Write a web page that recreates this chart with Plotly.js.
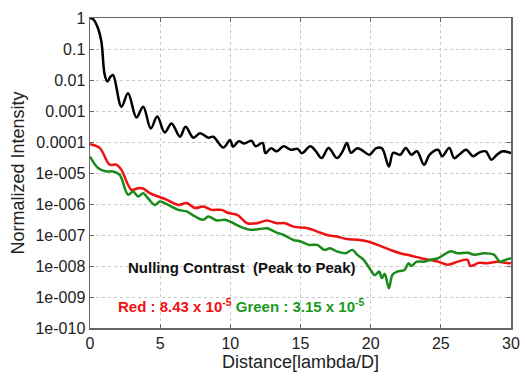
<!DOCTYPE html>
<html>
<head>
<meta charset="utf-8">
<script src="https://cdn.plot.ly/plotly-3.0.1.min.js"></script>
<style>html,body{margin:0;padding:0;background:#fff;}#chart{width:525px;height:376px;}</style>
</head>
<body>
<div id="chart"></div>
<script>
// Distance [lambda/D]
const blackX = [0, 0.25, 0.57, 0.81, 1.05, 1.24, 1.45, 1.64, 2.24, 2.71, 3.31, 3.79, 4.33, 4.79, 5.33, 5.81, 6.41, 6.81, 7.36, 7.84, 8.43, 8.78, 9.5, 9.98, 10.2, 10.6, 11.0, 11.5, 11.8, 12.3, 12.5, 12.9, 13.3, 13.8, 14.3, 14.8, 15.1, 15.7, 16.1, 16.5, 17.0, 17.6, 18.0, 18.3, 18.6, 19.05, 19.5, 19.9, 20.4, 20.8, 21.3, 21.6, 22.1, 22.5, 22.9, 23.3, 23.8, 24.2, 24.8, 25.1, 25.6, 25.95, 26.3, 26.8, 27.3, 27.7, 28.2, 28.6, 29.0, 29.4, 30];
const blackY = [1, 0.891, 0.468, 0.174, 1.45e-2, 8.91e-3, 1.26e-2, 1.45e-2, 1.38e-3, 3.72e-3, 6.17e-4, 1.38e-3, 2.75e-4, 6.61e-4, 2.04e-4, 3.98e-4, 1.48e-4, 3.09e-4, 1.38e-4, 1.91e-4, 1.38e-4, 1.48e-4, 6.61e-5, 1.15e-4, 7.08e-5, 1.05e-4, 8.91e-5, 1.10e-4, 7.24e-5, 9.33e-5, 4.37e-5, 6.31e-5, 5.01e-5, 7.24e-5, 5.62e-5, 6.03e-5, 4.37e-5, 7.24e-5, 5.01e-5, 3.02e-5, 6.46e-5, 3.02e-5, 5.01e-5, 9.33e-5, 4.47e-5, 6.31e-5, 5.01e-5, 3.89e-5, 6.31e-5, 6.31e-5, 1.62e-5, 4.47e-5, 3.89e-5, 6.46e-5, 3.89e-5, 5.01e-5, 1.86e-5, 3.89e-5, 5.62e-5, 3.47e-5, 6.46e-5, 3.02e-5, 3.89e-5, 5.62e-5, 3.47e-5, 4.47e-5, 5.01e-5, 2.69e-5, 3.89e-5, 5.01e-5, 4.37e-5];

const redX = [0, 0.69, 1.4, 1.88, 2.24, 2.95, 3.43, 3.79, 4.26, 4.86, 5.45, 6.29, 6.88, 7.48, 8.07, 8.66, 9.38, 9.86, 10.5, 11.2, 11.9, 12.6, 13.3, 13.9, 14.5, 15.5, 16.2, 16.9, 17.6, 18.3, 19.05, 19.8, 20.5, 21.4, 22.1, 22.9, 23.6, 24.2, 24.8, 25.5, 26.2, 26.9, 27.1, 27.7, 28.3, 29.05, 29.8, 30];
const redY = [8.51e-5, 6.46e-5, 1.86e-5, 1.86e-5, 1.26e-5, 2.88e-6, 3.24e-6, 3.16e-6, 2.24e-6, 1.74e-6, 1.38e-6, 9.33e-7, 1.07e-6, 7.41e-7, 8.32e-7, 6.46e-7, 6.46e-7, 5.13e-7, 4.47e-7, 2.40e-7, 2.40e-7, 2.95e-7, 2.40e-7, 2.40e-7, 1.86e-7, 1.66e-7, 1.29e-7, 1.0e-7, 8.91e-8, 7.41e-8, 7.08e-8, 6.17e-8, 4.79e-8, 3.31e-8, 2.57e-8, 2.14e-8, 1.78e-8, 1.58e-8, 1.38e-8, 1.10e-8, 1.38e-8, 1.58e-8, 1.0e-8, 1.26e-8, 1.23e-8, 1.38e-8, 1.23e-8, 1.26e-8];

const greenX = [0, 0.57, 1.16, 1.64, 2.12, 2.71, 3.07, 3.43, 3.79, 4.14, 4.62, 4.98, 5.57, 6.29, 6.88, 7.48, 8.07, 8.43, 9.02, 9.62, 10.0, 10.7, 11.4, 12.1, 12.6, 13.3, 13.8, 14.5, 15.0, 15.6, 16.2, 16.7, 17.1, 17.6, 18.2, 18.7, 19.05, 19.5, 20.0, 20.3, 20.6, 20.8, 21.0, 21.3, 21.55, 21.9, 22.4, 22.7, 22.9, 23.3, 23.8, 24.3, 24.8, 25.2, 25.7, 26.2, 26.9, 27.4, 28.1, 28.8, 29.2, 29.6, 30];
const greenY = [3.39e-5, 1.45e-5, 1.12e-5, 1.12e-5, 8.71e-6, 2.0e-6, 2.51e-6, 1.74e-6, 2.24e-6, 1.51e-6, 9.33e-7, 1.20e-6, 9.33e-7, 6.46e-7, 5.75e-7, 3.98e-7, 3.09e-7, 3.98e-7, 2.95e-7, 3.09e-7, 2.69e-7, 1.86e-7, 1.48e-7, 1.55e-7, 1.66e-7, 1.20e-7, 1.0e-7, 6.92e-8, 6.17e-8, 4.79e-8, 4.79e-8, 3.31e-8, 3.72e-8, 2.95e-8, 2.57e-8, 3.31e-8, 2.29e-8, 1.58e-8, 7.41e-9, 5.01e-9, 6.61e-9, 4.07e-9, 5.62e-9, 1.91e-9, 5.25e-9, 6.61e-9, 7.41e-9, 1.23e-8, 1.0e-8, 1.38e-8, 1.38e-8, 1.58e-8, 1.78e-8, 2.29e-8, 3.0e-8, 2.57e-8, 2.69e-8, 2.29e-8, 2.57e-8, 2.29e-8, 1.38e-8, 1.58e-8, 1.78e-8];

const xTicks = [0, 5, 10, 15, 20, 25, 30];
const yTickVals = [1, 0.1, 0.01, 0.001, 0.0001, 1e-5, 1e-6, 1e-7, 1e-8, 1e-9, 1e-10];
const yTickText = ['1', '0.1', '0.01', '0.001', '0.0001', '1e-005', '1e-006', '1e-007', '1e-008', '1e-009', '1e-010'];

const font = 'Arial, "Liberation Sans", sans-serif';

const traces = [
  {x: blackX, y: blackY, mode: 'lines', line: {color: '#000000', width: 2.5, shape: 'spline', smoothing: 1.0}},
  {x: redX, y: redY, mode: 'lines', line: {color: '#ee1111', width: 2.5, shape: 'spline', smoothing: 0.9}},
  {x: greenX, y: greenY, mode: 'lines', line: {color: '#1a8a1a', width: 2.5, shape: 'spline', smoothing: 0.9}}
];

const layout = {
  width: 525, height: 376,
  margin: {l: 90, r: 14, t: 18, b: 48},
  paper_bgcolor: '#ffffff', plot_bgcolor: '#ffffff',
  showlegend: false,
  font: {family: font, color: '#222222', size: 16},
  xaxis: {
    range: [0, 30], tickvals: xTicks, ticks: 'inside', ticklen: 4, tickcolor: '#666',
    showline: true, linecolor: '#666', linewidth: 1.5, mirror: 'ticks',
    showgrid: true, gridcolor: '#c8c8c8', griddash: 'dot', gridwidth: 1,
    zeroline: false, tickfont: {size: 16, color: '#222'},
    title: {text: 'Distance[lambda/D]', font: {size: 18, color: '#222'}, standoff: 4}
  },
  yaxis: {
    type: 'log', range: [-10, 0], tickvals: yTickVals, ticktext: yTickText,
    ticks: 'inside', ticklen: 4, tickcolor: '#666',
    showline: true, linecolor: '#666', linewidth: 1.5, mirror: 'ticks',
    showgrid: true, gridcolor: '#c8c8c8', griddash: 'dot', gridwidth: 1,
    zeroline: false, tickfont: {size: 16, color: '#222'},
    title: {text: 'Normalized Intensity', font: {size: 18, color: '#222'}, standoff: 6}
  },
  annotations: [
    {xref: 'paper', yref: 'paper', x: 0.36, y: 0.194, xanchor: 'center', yanchor: 'middle', showarrow: false,
     text: '<b>Nulling Contrast  (Peak to Peak)</b>', font: {family: font, size: 15, color: '#111'}},
    {xref: 'paper', yref: 'paper', x: 0.062, y: 0.074, xanchor: 'left', yanchor: 'middle', showarrow: false,
     text: '<b><span style="color:#ee1111">Red : 8.43 x 10<sup>-5</sup></span> <span style="color:#1a9a1a">Green : 3.15 x 10<sup>-5</sup></span></b>',
     font: {family: font, size: 15}}
  ]
};

Plotly.newPlot('chart', traces, layout, {displayModeBar: false, staticPlot: true});
</script>
</body>
</html>
